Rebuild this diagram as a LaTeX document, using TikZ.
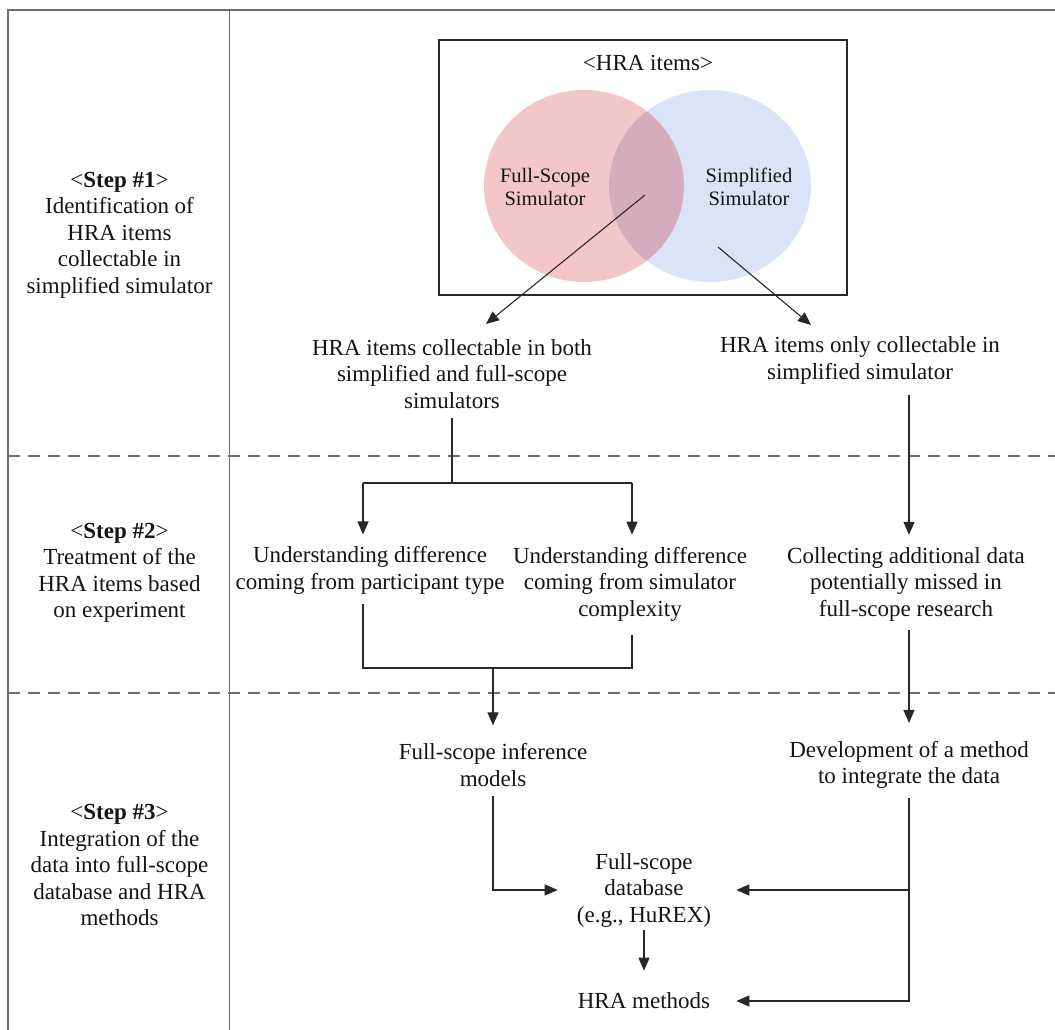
\documentclass[tikz,border=0pt]{standalone}
\usepackage{fontspec}
\setmainfont{Liberation Serif}
\usetikzlibrary{arrows.meta}
\definecolor{pinkc}{RGB}{243,199,201}
\definecolor{bluec}{RGB}{218,228,246}
\definecolor{overc}{RGB}{213,172,188}
\definecolor{framec}{RGB}{110,110,110}
\definecolor{linec}{RGB}{40,40,40}
\definecolor{textc}{RGB}{20,20,20}
\tikzset{
  txt/.style={align=center, inner sep=0pt, text=textc, font=\fontsize{23}{26.5}\selectfont},
  venntxt/.style={align=center, inner sep=0pt, text=textc, font=\fontsize{20.5}{23.5}\selectfont},
  conn/.style={draw=linec, line width=1.1pt},
  arr/.style={conn, -{Triangle[length=13pt,width=11pt]}},
  frameline/.style={draw=framec, line width=1.6pt},
  sepline/.style={draw=framec, line width=1.4pt, dash pattern=on 12pt off 8pt},
}
\begin{document}
\begin{tikzpicture}[x=1pt,y=-1pt]
\useasboundingbox (0,0) rectangle (1055,1030);
% frame
\draw[frameline] (1055,10) -- (8,10) -- (8,1030);
\draw[frameline] (229.5,10) -- (229.5,1030);
\draw[sepline] (8,456) -- (1055,456);
\draw[sepline] (8,693) -- (1055,693);
% step labels
\node[txt] (s1) at (119.5,235) {<\textbf{Step \#1}>\\Identification of\\HRA items\\collectable in\\simplified simulator};
\node[txt] (s2) at (119.5,573) {<\textbf{Step \#2}>\\Treatment of the\\HRA items based\\on experiment};
\node[txt] (s3) at (119.5,865) {<\textbf{Step \#3}>\\Integration of the\\data into full-scope\\database and HRA\\methods};
% Venn diagram
\node[draw=linec, line width=1.3pt, minimum width=408pt, minimum height=255pt, inner sep=0pt] (vbox) at (643,167.5) {};
\fill[pinkc] (584,186) ellipse (100pt and 96pt);
\fill[bluec] (710,186) ellipse (101pt and 96pt);
\begin{scope}
  \clip (584,186) ellipse (100pt and 96pt);
  \fill[overc] (710,186) ellipse (101pt and 96pt);
\end{scope}
\node[venntxt, font=\fontsize{23}{26}\selectfont] (hra) at (648,63) {<HRA items>};
\node[venntxt] (fsl) at (545,187) {Full-Scope\\Simulator};
\node[venntxt] (ssl) at (749,187) {Simplified\\Simulator};
\coordinate (a1s) at (645,195);
\coordinate (a2s) at (718,247);
% text nodes
\node[txt] (both) at (452,374) {HRA items collectable in both\\simplified and full-scope\\simulators};
\node[txt] (only) at (860,360.5) {HRA items only collectable in\\simplified simulator};
\node[txt] (ud1) at (370,570.5) {Understanding difference\\coming from participant type};
\node[txt] (ud2) at (630,584) {Understanding difference\\coming from simulator\\complexity};
\node[txt] (coll) at (906,584) {Collecting additional data\\potentially missed in\\full-scope research};
\node[txt] (infer) at (493,765) {Full-scope inference\\models};
\node[txt] (dev) at (909,765) {Development of a method\\to integrate the data};
\node[txt] (db) at (644,890) {Full-scope\\database\\(e.g., HuREX)};
\node[txt] (hram) at (644,1001) {HRA methods};
\coordinate (t1) at (486,324);
\coordinate (t2) at (811,325);
\coordinate (split) at (452,483);
\coordinate (l1) at (363,483);
\coordinate (r1) at (632,483);
\coordinate (join) at (493,668);
\coordinate (rl) at (909,395);
% connectors
\draw[arr] (a1s) -- (t1);
\draw[arr] (a2s) -- (t2);
\draw[conn] ([yshift=-9pt]both.south) -- (split);
\draw[conn] (l1) -- (r1);
\draw[arr, shorten >=12pt] (l1) -- (l1 |- ud1.north);
\draw[arr, shorten >=12pt] (r1) -- (r1 |- ud2.north);
\draw[arr, shorten >=12pt] (rl) -- (rl |- coll.north);
\draw[conn] (l1 |- ud1.south) ++(0,9) -- (l1 |- join) -- (r1 |- join) -- ([yshift=-14pt]r1 |- ud2.south);
\draw[arr, shorten >=18pt] (join) -- (infer.north);
\draw[arr, shorten >=18pt] (rl |- coll.south) ++(0,9) -- (rl |- dev.north);
\draw[arr, shorten >=19pt] (infer.south) ++(0,9) |- (db.west);
\draw[arr, shorten >=25pt] (rl |- dev.south) ++(0,9) |- (db.east);
\draw[arr, shorten >=26pt] (rl |- dev.south) ++(0,9) |- (hram.east);
\draw[arr, shorten <=3pt, shorten >=22pt] (db.south) -- (hram.north);
\end{tikzpicture}
\end{document}
